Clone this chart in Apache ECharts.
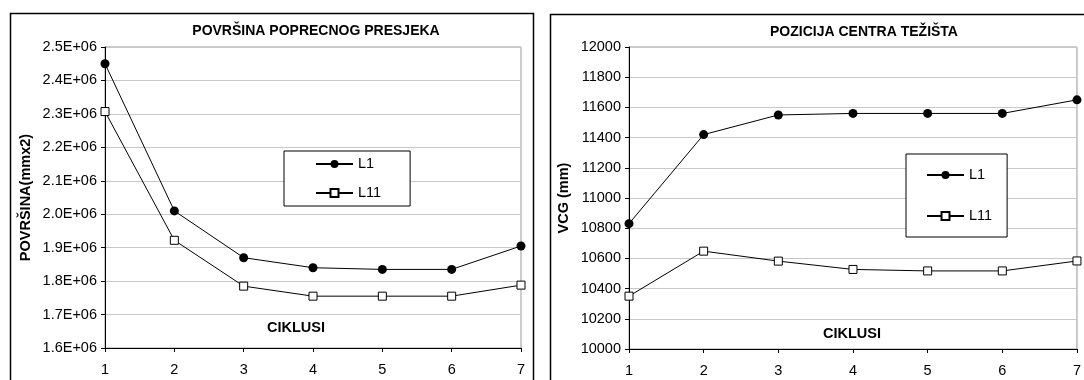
<!DOCTYPE html>
<html>
<head>
<meta charset="utf-8">
<script src="https://cdn.jsdelivr.net/npm/echarts@6/dist/echarts.min.js"></script>
<style>
html,body{margin:0;padding:0;background:#fff;}
#c{width:1084px;height:380px;}
</style>
</head>
<body>
<div id="c"></div>
<script>
var categories = ['1','2','3','4','5','6','7'];
var areaL1 = [2450000, 2010000, 1870000, 1840000, 1835000, 1835000, 1905000];
var areaL11 = [2307000, 1922000, 1785000, 1755000, 1755000, 1755000, 1788000];
var vcgL1 = [10830, 11420, 11550, 11560, 11560, 11560, 11650];
var vcgL11 = [10350, 10648, 10582, 10527, 10517, 10517, 10583];
var leftTitle = 'POVRŠINA POPRECNOG PRESJEKA';
var rightTitle = 'POZICIJA CENTRA TEŽIŠTA';
var leftYName = 'POVRŠINA(mmx2)';
var rightYName = 'VCG (mm)';
var xName = 'CIKLUSI';

var FONT = '"Liberation Sans", Arial, sans-serif';
var chart = echarts.init(document.getElementById('c'), null, {renderer: 'canvas'});

function lineSeries(name, data, idx, filled) {
  return {
    name: name, type: 'line', xAxisIndex: idx, yAxisIndex: idx, data: data,
    symbol: filled ? 'circle' : 'rect',
    symbolSize: filled ? 9 : 8,
    lineStyle: {color: '#000', width: 1},
    itemStyle: filled ? {color: '#000', borderColor: '#000', borderWidth: 0}
                      : {color: '#fff', borderColor: '#000', borderWidth: 1},
    emphasis: {disabled: true},
    animation: false,
    z: filled ? 3 : 4
  };
}

function xAxis(idx) {
  return {
    type: 'category', gridIndex: idx, data: categories, boundaryGap: false,
    axisLine: {show: true, lineStyle: {color: '#000', width: 1}},
    axisTick: {show: true, length: 4, lineStyle: {color: '#000'}},
    axisLabel: {color: '#000', fontFamily: FONT, fontSize: 14.5, margin: 14},
    splitLine: {show: false}
  };
}

function yAxis(idx, min, max, interval, fmt, name, gap) {
  return {
    type: 'value', gridIndex: idx, min: min, max: max, interval: interval,
    name: name, nameLocation: 'middle', nameGap: gap,
    nameTextStyle: {color: '#000', fontFamily: FONT, fontSize: 14.5, fontWeight: 'bold'},
    axisLine: {show: true, lineStyle: {color: '#000', width: 1}},
    axisTick: {show: true, length: 4, lineStyle: {color: '#000'}},
    axisLabel: {color: '#000', fontFamily: FONT, fontSize: 14.5, margin: 8, formatter: fmt},
    splitLine: {show: true, lineStyle: {color: '#c8c8c8', width: 1}}
  };
}

function legend(left, top, padding, gap) {
  return {
    orient: 'vertical', left: left, top: top, data: ['L1', 'L11'],
    borderColor: '#000', borderWidth: 1, backgroundColor: '#fff',
    padding: padding, itemGap: gap, itemWidth: 37, itemHeight: 10,
    textStyle: {color: '#000', fontFamily: FONT, fontSize: 14.5},
    selectedMode: false
  };
}

var option = {
  backgroundColor: '#fff',
  animation: false,
  title: [
    {text: leftTitle, left: 311, top: 19, textAlign: 'center',
     textStyle: {fontFamily: FONT, fontSize: 14, fontWeight: 'bold', color: '#000'}},
    {text: rightTitle, left: 859, top: 20, textAlign: 'center',
     textStyle: {fontFamily: FONT, fontSize: 14, fontWeight: 'bold', color: '#000'}}
  ],
  grid: [
    {left: 105, right: 563, top: 47, bottom: 32, show: true, borderColor: '#999', borderWidth: 1, backgroundColor: 'transparent'},
    {left: 629, right: 2, top: 47, bottom: 31, show: true, borderColor: '#999', borderWidth: 1, backgroundColor: 'transparent'}
  ],
  xAxis: [xAxis(0), xAxis(1)],
  yAxis: [
    yAxis(0, 1600000, 2500000, 100000, function (v) { return (v / 1e6).toFixed(1) + 'E+06'; }, leftYName, 72),
    yAxis(1, 10000, 12000, 200, function (v) { return String(v); }, rightYName, 58)
  ],
  legend: [
    legend(284, 151, [5.5, 29, 5.5, 31], 14),
    legend(906, 154, [13.5, 15, 13.5, 20], 26)
  ],
  series: [
    lineSeries('L1', areaL1, 0, true),
    lineSeries('L11', areaL11, 0, false),
    lineSeries('L1', vcgL1, 1, true),
    lineSeries('L11', vcgL11, 1, false)
  ],
  graphic: [
    {type: 'rect', shape: {x: 10.5, y: 13.5, width: 523, height: 420}, style: {fill: 'none', stroke: '#000', lineWidth: 1.5}, silent: true},
    {type: 'rect', shape: {x: 550.5, y: 14.5, width: 600, height: 420}, style: {fill: 'none', stroke: '#000', lineWidth: 1.5}, silent: true},
    {type: 'text', left: 267, top: 320, style: {text: xName, fill: '#000', font: 'bold 14.5px ' + FONT}, silent: true, z: 10},
    {type: 'text', left: 823, top: 326, style: {text: xName, fill: '#000', font: 'bold 14.5px ' + FONT}, silent: true, z: 10}
  ]
};
chart.setOption(option);
</script>
</body>
</html>
